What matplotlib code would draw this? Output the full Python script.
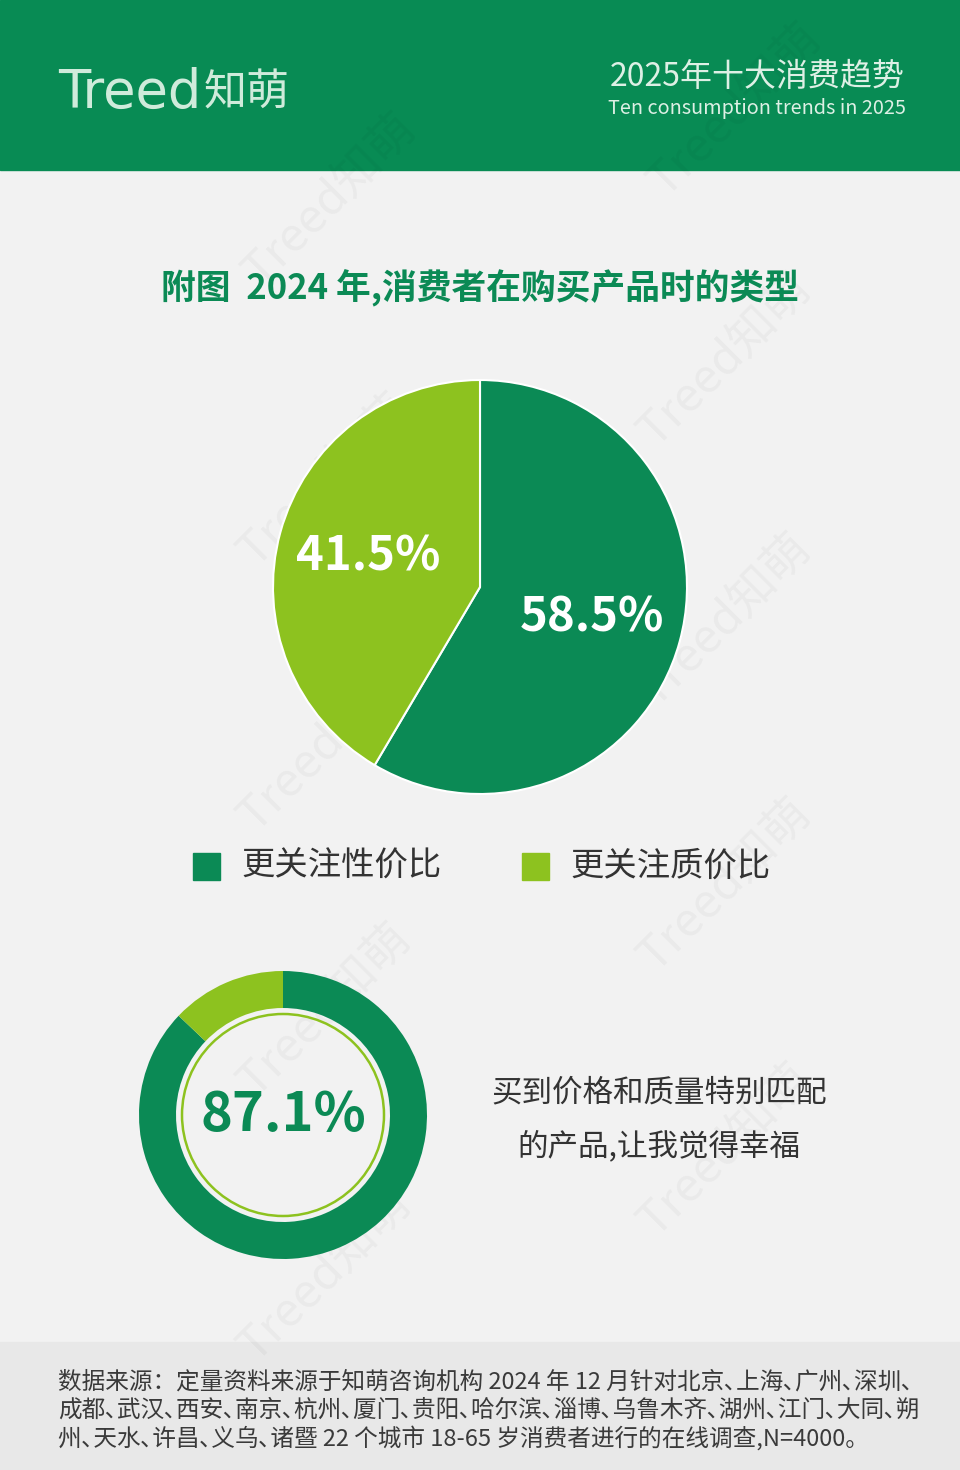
import matplotlib
matplotlib.use("Agg")
import matplotlib.pyplot as plt
from matplotlib.patches import Rectangle, Circle

plt.rcParams['font.family'] = ['Noto Sans CJK SC', 'DejaVu Sans']

# data
pie_labels = ['更关注性价比', '更关注质价比']
pie_values = [58.5, 41.5]
happy_share = 87.1
happy_text = ['买到价格和质量特别匹配', '的产品,让我觉得幸福']

title = '附图  2024 年,消费者在购买产品时的类型'
header_cn = '2025年十大消费趋势'
header_en = 'Ten consumption trends in 2025'
source_lines = [
    '数据来源：定量资料来源于知萌咨询机构 2024 年 12 月针对北京､上海､广州､深圳､',
    '成都､武汉､西安､南京､杭州､厦门､贵阳､哈尔滨､淄博､乌鲁木齐､湖州､江门､大同､朔',
    '州､天水､许昌､义乌､诸暨 22 个城市 18-65 岁消费者进行的在线调查,N=4000。',
]

dark = '#0B8A55'
light = '#8DC21F'
bg = '#F2F2F2'

W, H = 960, 1470
fig = plt.figure(figsize=(W / 100, H / 100), dpi=100)
fig.patch.set_facecolor(bg)

# full-figure axes in pixel coords
base = fig.add_axes([0, 0, 1, 1])
base.set_xlim(0, W)
base.set_ylim(H, 0)
base.axis('off')

base.add_patch(Rectangle((0, 0), W, 170, color='#088B54', zorder=0))
base.add_patch(Rectangle((0, 1342), W, 128, color='#E8E8E8', zorder=0))

# faint watermarks
for wx, wy in [(330, 200), (735, 110), (725, 360), (325, 480), (725, 620),
               (325, 745), (725, 885), (325, 1010), (725, 1150), (325, 1275)]:
    base.text(wx, wy, 'Treed知萌', fontsize=34, rotation=45, color='#000000',
              alpha=0.035, ha='center', va='center', zorder=1)

base.text(58, 93, 'Treed', fontsize=38, color='#CFEBDB', ha='left', va='center',
          family=['DejaVu Sans'], zorder=2)
base.text(204, 93, '知萌', fontsize=31, color='#CFEBDB', ha='left', va='center', zorder=2)
base.text(905, 77, header_cn, fontsize=23, color='#DDF0E5', ha='right', va='center', zorder=2)
base.text(906, 108, header_en, fontsize=14.3, color='#DDF0E5', ha='right', va='center', zorder=2)

base.text(480, 288, title, fontsize=25, fontweight='bold', color=dark,
          ha='center', va='center', zorder=2)

# legend
for (lx, tx), lab, col in zip([(193, 241), (522, 570)], pie_labels, [dark, light]):
    base.add_patch(Rectangle((lx, 853), 27, 27, color=col, zorder=2))
    base.text(tx, 866, lab, fontsize=24, color='#333333', ha='left', va='center', zorder=2)

for i, line in enumerate(happy_text):
    base.text(659, 1093 + 53 * i, line, fontsize=22, color='#333333',
              ha='center', va='center', zorder=2)

for i, line in enumerate(source_lines):
    base.text(58, 1382 + 28 * i, line, fontsize=17, color='#3A3A3A',
              ha='left', va='center', zorder=2)

# main pie
cx, cy, r = 480, 587, 207
ax1 = fig.add_axes([(cx - r) / W, (H - cy - r) / H, 2 * r / W, 2 * r / H])
wedges, texts, autotexts = ax1.pie(
    pie_values, colors=[dark, light], startangle=90, counterclock=False,
    autopct='%.1f%%', pctdistance=0.56,
    wedgeprops=dict(edgecolor='white', linewidth=1.5))
for t in autotexts:
    t.set_color('white')
    t.set_fontsize(34)
    t.set_fontweight('bold')
ax1.set_xlim(-1, 1)
ax1.set_ylim(-1, 1)
ax1.axis('off')

# donut
dx, dy, dr = 283, 1115, 144
ax2 = fig.add_axes([(dx - dr) / W, (H - dy - dr) / H, 2 * dr / W, 2 * dr / H])
ax2.pie([happy_share, 100 - happy_share], colors=[dark, light], startangle=90,
        counterclock=False, wedgeprops=dict(width=37 / 144, edgecolor='none'))
ax2.add_patch(Circle((0, 0), 101 / 144, fill=False, edgecolor=light, linewidth=1.8))
ax2.text(0, 0, f'{happy_share}%', fontsize=39, fontweight='bold', color=dark,
         ha='center', va='center')
ax2.set_xlim(-1, 1)
ax2.set_ylim(-1, 1)
ax2.axis('off')

fig.savefig('out.png', dpi=100, facecolor=bg)
